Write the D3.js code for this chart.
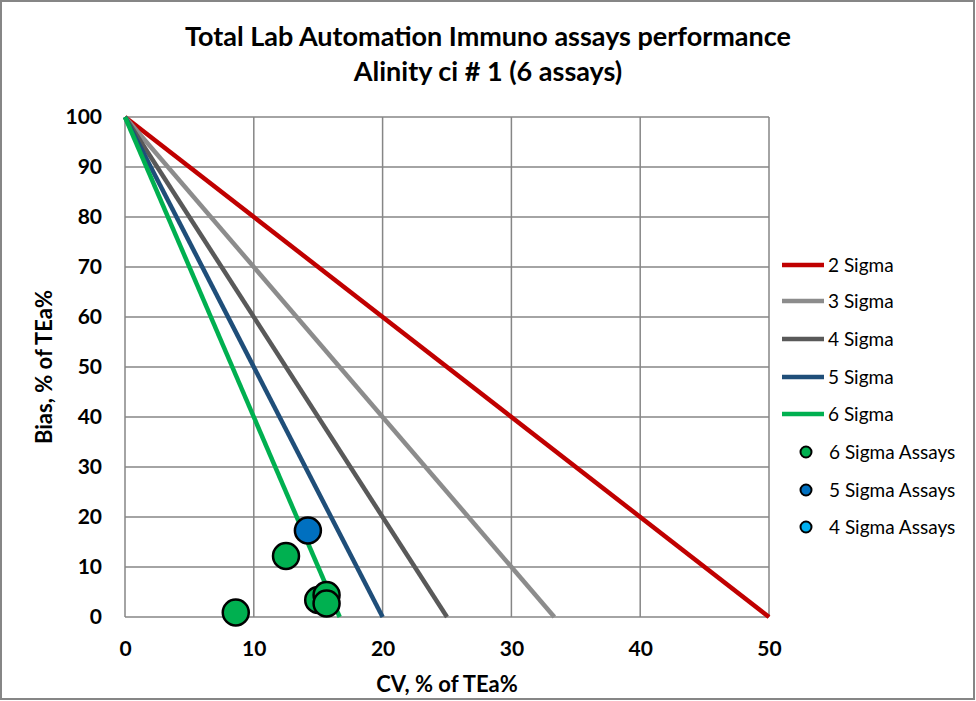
<!DOCTYPE html>
<html><head><meta charset="utf-8">
<script src="https://cdn.jsdelivr.net/npm/d3@7"></script>
<style>body{margin:0;background:#fff}svg{display:block}text{font-family:Lato,"Open Sans",sans-serif}</style>
</head><body>
<script>
const titleLines = ["Total Lab Automation Immuno assays performance", "Alinity ci # 1 (6 assays)"];
const xLabel = "CV, % of TEa%";
const yLabel = "Bias, % of TEa%";
const xTicks = [0, 10, 20, 30, 40, 50];
const yTicks = [0, 10, 20, 30, 40, 50, 60, 70, 80, 90, 100];
const sigmaNames = ["2 Sigma", "3 Sigma", "4 Sigma", "5 Sigma", "6 Sigma"];
const sigmaLevels = [2, 3, 4, 5, 6];
const sigmaColors = ["#C00000", "#8C8C8C", "#595959", "#1F4E79", "#00B050"];
const assayNames = ["6 Sigma Assays", "5 Sigma Assays", "4 Sigma Assays"];
const assayColors = ["#00B050", "#0070C0", "#00B0F0"];
const sixSigmaCV = [8.6, 12.5, 15.0, 15.65, 15.65];
const sixSigmaBias = [0.9, 12.2, 3.4, 4.4, 2.7];
const fiveSigmaCV = [14.2];
const fiveSigmaBias = [17.3];
const fourSigmaCV = [];
const fourSigmaBias = [];

const W = 976, H = 701;
const svg = d3.select("body").append("svg").attr("width", W).attr("height", H);
svg.append("rect").attr("x", 1).attr("y", 1).attr("width", W - 3).attr("height", H - 3)
  .attr("fill", "#fff").attr("stroke", "#868686").attr("stroke-width", 2);

const x = d3.scaleLinear().domain([0, 50]).range([125, 769]);
const y = d3.scaleLinear().domain([0, 100]).range([617, 117]);

// grid
const g = svg.append("g");
g.selectAll(".vg").data(xTicks).join("line")
  .attr("x1", d => x(d)).attr("x2", d => x(d)).attr("y1", y(0)).attr("y2", y(100))
  .attr("stroke", "#868686").attr("stroke-width", 1.5);
g.selectAll(".hg").data(yTicks).join("line")
  .attr("x1", x(0)).attr("x2", x(50)).attr("y1", d => y(d)).attr("y2", d => y(d))
  .attr("stroke", "#868686").attr("stroke-width", 1.5);

// axes labels via d3 axes
const xAxis = svg.append("g").attr("transform", `translate(0,${y(0)})`)
  .call(d3.axisBottom(x).tickValues(xTicks).tickSize(0).tickPadding(24));
xAxis.select(".domain").remove();
xAxis.selectAll("text").attr("font-size", 21).attr("font-weight", "bold").attr("fill", "#000")
  .style("font-family", "Lato, sans-serif");
const yAxis = svg.append("g").attr("transform", `translate(${x(0)},0)`)
  .call(d3.axisLeft(y).tickValues(yTicks).tickSize(0).tickPadding(23));
yAxis.select(".domain").remove();
yAxis.selectAll("text").attr("font-size", 21).attr("font-weight", "bold").attr("fill", "#000")
  .style("font-family", "Lato, sans-serif");

// sigma lines
const lineGen = d3.line().x(d => x(d[0])).y(d => y(d[1]));
sigmaLevels.forEach((s, i) => {
  svg.append("path").datum([[0, 100], [100 / s, 0]]).attr("d", lineGen)
    .attr("fill", "none").attr("stroke", sigmaColors[i]).attr("stroke-width", 4.5);
});

// points
const pointSets = [
  [fourSigmaCV, fourSigmaBias, assayColors[2]],
  [sixSigmaCV, sixSigmaBias, assayColors[0]],
  [fiveSigmaCV, fiveSigmaBias, assayColors[1]]
];
pointSets.forEach(([xs, ys, c]) => {
  svg.append("g").selectAll("circle").data(xs.map((v, i) => [v, ys[i]])).join("circle")
    .attr("cx", d => x(d[0])).attr("cy", d => y(d[1])).attr("r", 13)
    .attr("fill", c).attr("stroke", "#000").attr("stroke-width", 2.5);
});

// title
svg.append("g").selectAll("text").data(titleLines).join("text")
  .attr("x", 488).attr("y", (d, i) => 46 + i * 35).attr("text-anchor", "middle")
  .attr("font-size", 27).attr("font-weight", "bold").attr("fill", "#000").text(d => d);

// axis titles
svg.append("text").attr("x", 447).attr("y", 692).attr("text-anchor", "middle")
  .attr("font-size", 22).attr("font-weight", "bold").text(xLabel);
svg.append("text").attr("transform", "translate(52,367) rotate(-90)").attr("text-anchor", "middle")
  .attr("font-size", 22).attr("font-weight", "bold").text(yLabel);

// legend
const legY = [265, 301, 339, 377, 414];
const lg = svg.append("g");
sigmaNames.forEach((n, i) => {
  lg.append("line").attr("x1", 782).attr("x2", 824).attr("y1", legY[i]).attr("y2", legY[i])
    .attr("stroke", sigmaColors[i]).attr("stroke-width", 4.5);
  lg.append("text").attr("x", 828).attr("y", legY[i] + 7).attr("font-size", 19).text(n);
});
const legY2 = [452, 490, 527];
assayNames.forEach((n, i) => {
  lg.append("circle").attr("cx", 806).attr("cy", legY2[i]).attr("r", 5.5)
    .attr("fill", assayColors[i]).attr("stroke", "#000").attr("stroke-width", 2);
  lg.append("text").attr("x", 829).attr("y", legY2[i] + 7).attr("font-size", 19).text(n);
});
</script>
</body></html>
